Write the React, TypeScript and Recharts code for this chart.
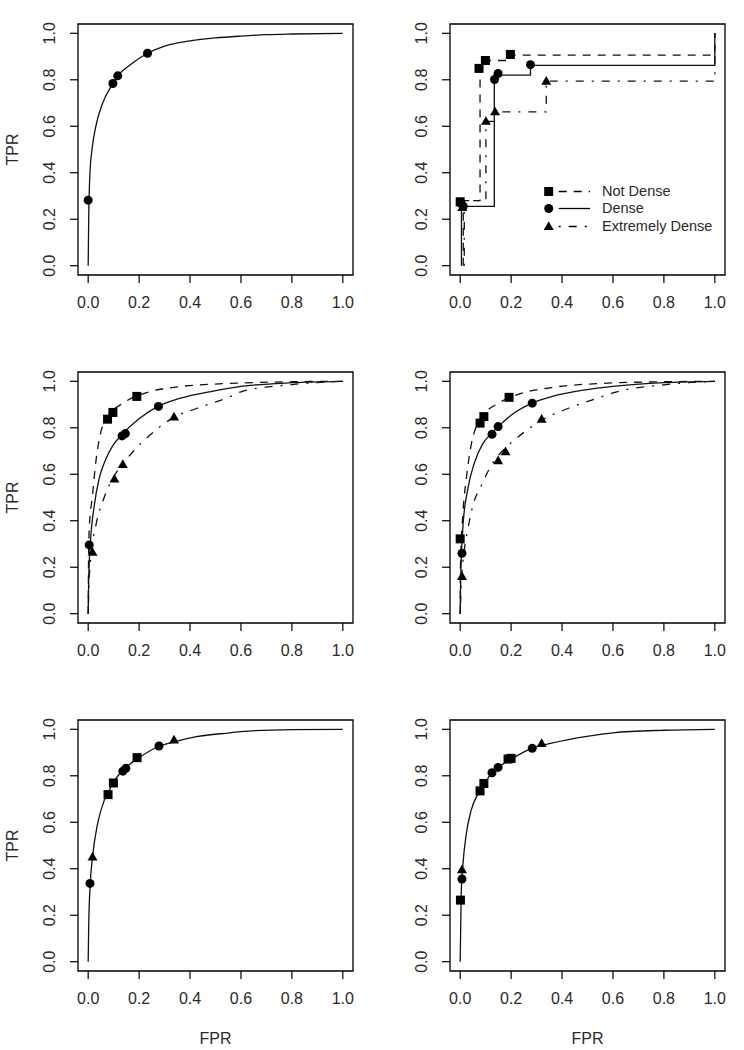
import React from 'react'
import { ComposedChart, Line, Scatter, XAxis, YAxis, ReferenceArea, Legend } from 'recharts'

const FONT = '"Liberation Sans", Arial, Helvetica, sans-serif'
const INK = '#2a2a2a'

const axisTicks = [0, 0.2, 0.4, 0.6, 0.8, 1]
const tickLabels = ['0.0', '0.2', '0.4', '0.6', '0.8', '1.0']
const legendLabels = ['Not Dense', 'Dense', 'Extremely Dense']
const xTitle = 'FPR'
const yTitle = 'TPR'

// panel 1 (top left): one fitted curve + dense points
const p1CurveX = [0, 0.002, 0.007, 0.015, 0.03, 0.057, 0.097, 0.116, 0.16, 0.233, 0.3, 0.4, 0.5, 0.6, 0.7, 0.8, 1]
const p1CurveY = [0, 0.2, 0.4, 0.5, 0.6, 0.7, 0.784, 0.817, 0.86, 0.914, 0.945, 0.967, 0.98, 0.988, 0.994, 0.997, 1]
const p1CircX = [0.0, 0.097, 0.116, 0.233]
const p1CircY = [0.282, 0.784, 0.817, 0.914]

// panel 2 (top right): empirical step curves
const p2NotDenseX = [0.012, 0.012, 0.078, 0.099, 0.193, 1]
const p2NotDenseY = [0, 0.28, 0.852, 0.883, 0.906, 1]
const p2DenseX = [0.005, 0.005, 0.134, 0.276, 1]
const p2DenseY = [0, 0.255, 0.82, 0.862, 1]
const p2ExtX = [0.016, 0.016, 0.101, 0.137, 0.338, 1]
const p2ExtY = [0, 0.28, 0.621, 0.662, 0.794, 1]
const p2SqX = [0.0, 0.074, 0.099, 0.197]
const p2SqY = [0.275, 0.849, 0.883, 0.909]
const p2CircX = [0.002, 0.012, 0.135, 0.149, 0.276]
const p2CircY = [0.268, 0.256, 0.801, 0.827, 0.865]
const p2TriX = [0.008, 0.101, 0.137, 0.338]
const p2TriY = [0.25, 0.621, 0.662, 0.794]

// panel 3 (middle left)
const p3NotDenseX = [0, 0.001, 0.004, 0.017, 0.03, 0.05, 0.076, 0.136, 0.241, 0.359, 0.557, 0.8, 1]
const p3NotDenseY = [0, 0.18, 0.364, 0.509, 0.653, 0.783, 0.847, 0.905, 0.955, 0.977, 0.991, 0.998, 1]
const p3DenseX = [0, 0.002, 0.008, 0.024, 0.043, 0.07, 0.096, 0.136, 0.201, 0.276, 0.359, 0.491, 0.6, 0.8, 1]
const p3DenseY = [0, 0.15, 0.293, 0.466, 0.581, 0.667, 0.722, 0.775, 0.84, 0.893, 0.926, 0.958, 0.978, 0.994, 1]
const p3ExtX = [0, 0.003, 0.011, 0.03, 0.063, 0.096, 0.136, 0.175, 0.228, 0.34, 0.425, 0.557, 0.6, 0.8, 1]
const p3ExtY = [0, 0.12, 0.249, 0.379, 0.501, 0.581, 0.645, 0.696, 0.754, 0.847, 0.883, 0.934, 0.955, 0.986, 1]
const p3SqX = [0.076, 0.097, 0.191]
const p3SqY = [0.837, 0.866, 0.935]
const p3CircX = [0.004, 0.133, 0.146, 0.276]
const p3CircY = [0.296, 0.765, 0.775, 0.892]
const p3TriX = [0.017, 0.103, 0.136, 0.337]
const p3TriY = [0.264, 0.579, 0.642, 0.846]

// panel 4 (middle right)
const p4NotDenseX = [0, 0.001, 0.011, 0.024, 0.043, 0.063, 0.096, 0.149, 0.228, 0.359, 0.557, 0.8, 1]
const p4NotDenseY = [0, 0.2, 0.437, 0.58, 0.725, 0.805, 0.862, 0.905, 0.944, 0.973, 0.991, 0.998, 1]
const p4DenseX = [0, 0.002, 0.011, 0.03, 0.057, 0.089, 0.122, 0.149, 0.201, 0.28, 0.359, 0.491, 0.6, 0.8, 1]
const p4DenseY = [0, 0.15, 0.379, 0.537, 0.653, 0.732, 0.775, 0.805, 0.855, 0.905, 0.934, 0.963, 0.978, 0.994, 1]
const p4ExtX = [0, 0.004, 0.017, 0.03, 0.05, 0.083, 0.122, 0.162, 0.228, 0.314, 0.425, 0.557, 0.6, 0.8, 1]
const p4ExtY = [0, 0.12, 0.279, 0.364, 0.466, 0.552, 0.638, 0.696, 0.761, 0.829, 0.884, 0.934, 0.95, 0.985, 1]
const p4SqX = [0.0, 0.078, 0.093, 0.192]
const p4SqY = [0.322, 0.82, 0.848, 0.931]
const p4CircX = [0.007, 0.125, 0.149, 0.283]
const p4CircY = [0.26, 0.772, 0.805, 0.906]
const p4TriX = [0.007, 0.149, 0.178, 0.32]
const p4TriY = [0.16, 0.658, 0.697, 0.837]

// panel 5 (bottom left)
const p5CurveX = [0, 0.002, 0.008, 0.017, 0.037, 0.063, 0.083, 0.096, 0.136, 0.195, 0.274, 0.34, 0.425, 0.557, 0.6, 0.8, 1]
const p5CurveY = [0, 0.15, 0.334, 0.45, 0.594, 0.694, 0.738, 0.766, 0.824, 0.874, 0.925, 0.946, 0.968, 0.985, 0.99, 0.999, 1]
const p5SqX = [0.078, 0.099, 0.192]
const p5SqY = [0.719, 0.769, 0.878]
const p5CircX = [0.007, 0.136, 0.148, 0.278]
const p5CircY = [0.337, 0.82, 0.832, 0.928]
const p5TriX = [0.017, 0.337]
const p5TriY = [0.45, 0.954]

// panel 6 (bottom right)
const p6CurveX = [0, 0.004, 0.011, 0.024, 0.043, 0.07, 0.096, 0.122, 0.162, 0.228, 0.28, 0.359, 0.491, 0.557, 0.6, 0.8, 1]
const p6CurveY = [0, 0.291, 0.421, 0.55, 0.651, 0.723, 0.766, 0.81, 0.846, 0.889, 0.918, 0.94, 0.968, 0.979, 0.985, 0.996, 1]
const p6SqX = [0.001, 0.078, 0.093, 0.188, 0.2]
const p6SqY = [0.265, 0.735, 0.767, 0.872, 0.875]
const p6CircX = [0.007, 0.125, 0.149, 0.283]
const p6CircY = [0.356, 0.813, 0.836, 0.918]
const p6TriX = [0.007, 0.32]
const p6TriY = [0.396, 0.939]

const zip = (xs: number[], ys: number[]) => xs.map((x, i) => ({ x, y: ys[i] }))

const DASH: Record<string, string | undefined> = {
  notDense: '8 7',
  dense: undefined,
  ext: '2 8 8 8',
}

function Square({ cx, cy, s = 9 }: any) {
  return <rect x={cx - s / 2} y={cy - s / 2} width={s} height={s} fill="#000" />
}
function Dot({ cx, cy, r = 4.5 }: any) {
  return <circle cx={cx} cy={cy} r={r} fill="#000" />
}
function Tri({ cx, cy, s = 10 }: any) {
  const h = s * 0.87
  return (
    <polygon
      points={`${cx},${cy - h * 0.6} ${cx - s / 2},${cy + h * 0.4} ${cx + s / 2},${cy + h * 0.4}`}
      fill="#000"
    />
  )
}

const SHAPES: Record<string, (p: any) => React.ReactElement> = {
  square: (p) => <Square cx={p.cx} cy={p.cy} />,
  circle: (p) => <Dot cx={p.cx} cy={p.cy} />,
  triangle: (p) => <Tri cx={p.cx} cy={p.cy} />,
}

type Curve = { xs: number[]; ys: number[]; kind: string; type: 'monotone' | 'stepAfter' }
type Marks = { xs: number[]; ys: number[]; shape: string }
type PanelCfg = { curves: Curve[]; marks: Marks[]; tpr: boolean; fpr: boolean; legend?: boolean }

const panels: PanelCfg[] = [
  {
    curves: [{ xs: p1CurveX, ys: p1CurveY, kind: 'dense', type: 'monotone' }],
    marks: [{ xs: p1CircX, ys: p1CircY, shape: 'circle' }],
    tpr: true,
    fpr: false,
  },
  {
    curves: [
      { xs: p2NotDenseX, ys: p2NotDenseY, kind: 'notDense', type: 'stepAfter' },
      { xs: p2DenseX, ys: p2DenseY, kind: 'dense', type: 'stepAfter' },
      { xs: p2ExtX, ys: p2ExtY, kind: 'ext', type: 'stepAfter' },
    ],
    marks: [
      { xs: p2SqX, ys: p2SqY, shape: 'square' },
      { xs: p2CircX, ys: p2CircY, shape: 'circle' },
      { xs: p2TriX, ys: p2TriY, shape: 'triangle' },
    ],
    tpr: false,
    fpr: false,
    legend: true,
  },
  {
    curves: [
      { xs: p3NotDenseX, ys: p3NotDenseY, kind: 'notDense', type: 'monotone' },
      { xs: p3DenseX, ys: p3DenseY, kind: 'dense', type: 'monotone' },
      { xs: p3ExtX, ys: p3ExtY, kind: 'ext', type: 'monotone' },
    ],
    marks: [
      { xs: p3SqX, ys: p3SqY, shape: 'square' },
      { xs: p3CircX, ys: p3CircY, shape: 'circle' },
      { xs: p3TriX, ys: p3TriY, shape: 'triangle' },
    ],
    tpr: true,
    fpr: false,
  },
  {
    curves: [
      { xs: p4NotDenseX, ys: p4NotDenseY, kind: 'notDense', type: 'monotone' },
      { xs: p4DenseX, ys: p4DenseY, kind: 'dense', type: 'monotone' },
      { xs: p4ExtX, ys: p4ExtY, kind: 'ext', type: 'monotone' },
    ],
    marks: [
      { xs: p4SqX, ys: p4SqY, shape: 'square' },
      { xs: p4CircX, ys: p4CircY, shape: 'circle' },
      { xs: p4TriX, ys: p4TriY, shape: 'triangle' },
    ],
    tpr: false,
    fpr: false,
  },
  {
    curves: [{ xs: p5CurveX, ys: p5CurveY, kind: 'dense', type: 'monotone' }],
    marks: [
      { xs: p5SqX, ys: p5SqY, shape: 'square' },
      { xs: p5CircX, ys: p5CircY, shape: 'circle' },
      { xs: p5TriX, ys: p5TriY, shape: 'triangle' },
    ],
    tpr: true,
    fpr: true,
  },
  {
    curves: [{ xs: p6CurveX, ys: p6CurveY, kind: 'dense', type: 'monotone' }],
    marks: [
      { xs: p6SqX, ys: p6SqY, shape: 'square' },
      { xs: p6CircX, ys: p6CircY, shape: 'circle' },
      { xs: p6TriX, ys: p6TriY, shape: 'triangle' },
    ],
    tpr: false,
    fpr: true,
  },
]

function XTick(props: any) {
  const { x, y, payload } = props
  const i = axisTicks.indexOf(payload.value)
  return (
    <text x={x} y={y + 25} textAnchor="middle" fontSize={16} fill={INK} fontFamily={FONT}>
      {tickLabels[i]}
    </text>
  )
}

function YTick(props: any) {
  const { x, y, payload } = props
  const i = axisTicks.indexOf(payload.value)
  const tx = x - 15
  return (
    <text
      x={tx}
      y={y}
      transform={`rotate(-90, ${tx}, ${y})`}
      textAnchor="middle"
      fontSize={16}
      fill={INK}
      fontFamily={FONT}
    >
      {tickLabels[i]}
    </text>
  )
}

function FprLabel(props: any) {
  const vb = props.viewBox
  return (
    <text x={vb.x + vb.width / 2} y={vb.y + 73} textAnchor="middle" fontSize={16} fill={INK} fontFamily={FONT}>
      {xTitle}
    </text>
  )
}

function TprLabel(props: any) {
  const vb = props.viewBox
  const tx = vb.x + 18
  const ty = vb.y + vb.height / 2
  return (
    <text x={tx} y={ty} transform={`rotate(-90, ${tx}, ${ty})`} textAnchor="middle" fontSize={16} fill={INK} fontFamily={FONT}>
      {yTitle}
    </text>
  )
}

const legendKinds = ['notDense', 'dense', 'ext']
const legendShapes = ['square', 'circle', 'triangle']

function LegendBox() {
  return (
    <div style={{ fontFamily: FONT, fontSize: 14.5, color: INK }}>
      {legendLabels.map((label, i) => (
        <div key={label} style={{ display: 'flex', alignItems: 'center', height: 17.3 }}>
          <svg width={58} height={17} style={{ display: 'block' }}>
            {SHAPES[legendShapes[i]]({ cx: 6.7, cy: 8.5 })}
            <line x1={16.7} x2={48} y1={8.5} y2={8.5} stroke="#000" strokeWidth={1.3} strokeDasharray={DASH[legendKinds[i]]} />
          </svg>
          <span style={{ marginLeft: 2, lineHeight: '17px', whiteSpace: 'nowrap' }}>{label}</span>
        </div>
      ))}
    </div>
  )
}

function Panel({ cfg }: { cfg: PanelCfg }) {
  return (
    <ComposedChart width={372} height={352} margin={{ top: 24, right: 19, bottom: 0, left: 0 }}>
      <XAxis
        dataKey="x"
        type="number"
        domain={[-0.04, 1.04]}
        ticks={axisTicks}
        allowDataOverflow
        interval={0}
        axisLine={false}
        tickLine={{ stroke: '#000', strokeWidth: 1.2 }}
        tickSize={8}
        tickMargin={0}
        height={77}
        tick={<XTick />}
        label={cfg.fpr ? { content: FprLabel } : undefined}
      />
      <YAxis
        dataKey="y"
        type="number"
        domain={[-0.04, 1.04]}
        ticks={axisTicks}
        allowDataOverflow
        interval={0}
        axisLine={false}
        tickLine={{ stroke: '#000', strokeWidth: 1.2 }}
        tickSize={8}
        tickMargin={0}
        width={78}
        tick={<YTick />}
        label={cfg.tpr ? { content: TprLabel } : undefined}
      />
      <ReferenceArea
        x1={-0.04}
        x2={1.04}
        y1={-0.04}
        y2={1.04}
        fill="none"
        fillOpacity={0}
        stroke="#000"
        strokeWidth={1.3}
        ifOverflow="visible"
      />
      {cfg.curves.map((c, i) => (
        <Line
          key={'c' + i}
          data={zip(c.xs, c.ys)}
          dataKey="y"
          type={c.type}
          stroke="#111"
          strokeWidth={1.3}
          strokeDasharray={DASH[c.kind]}
          dot={false}
          activeDot={false}
          legendType="none"
          isAnimationActive={false}
        />
      ))}
      {cfg.marks.map((m, i) => (
        <Scatter
          key={'m' + i}
          data={zip(m.xs, m.ys)}
          shape={SHAPES[m.shape]}
          legendType="none"
          isAnimationActive={false}
        />
      ))}
      {cfg.legend && (
        <Legend
          layout="horizontal"
          verticalAlign="middle"
          align="center"
          wrapperStyle={{ left: 170, top: 183, width: 'auto' }}
          content={() => <LegendBox />}
        />
      )}
    </ComposedChart>
  )
}

export default function App() {
  return (
    <div style={{ position: 'absolute', left: 0, top: 0, width: 744, height: 1050, background: '#fff' }}>
      {panels.map((cfg, i) => (
        <div
          key={i}
          style={{ position: 'absolute', left: (i % 2) * 372, top: Math.floor(i / 2) * 348 }}
        >
          <Panel cfg={cfg} />
        </div>
      ))}
    </div>
  )
}
